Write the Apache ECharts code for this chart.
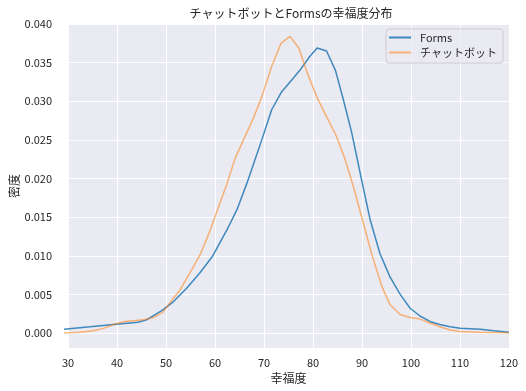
<!DOCTYPE html>
<html><head><meta charset="utf-8">
<script src="https://cdn.jsdelivr.net/npm/echarts@6/dist/echarts.min.js"></script>
<style>html,body{margin:0;padding:0;background:#fff}#c{width:526px;height:391px}</style>
</head><body><div id="c"></div>
<script>
const chartTitle = 'チャットボットとFormsの幸福度分布';
const xName = '幸福度';
const yName = '密度';
const seriesNames = ['Forms', 'チャットボット'];

const formsX = [30, 35.3, 40, 45, 46.7, 50, 52.2, 54.8, 57.5, 60, 63, 65, 67, 70, 72, 74, 76.4, 77.7, 79.7, 81.2, 83.1, 84.9, 86.5, 88.2, 90.2, 91.9, 93.9, 95.9, 98, 100, 102, 104, 106, 108.1, 110.1, 114.2, 116.9, 120];
const formsY = [0.0005, 0.0008, 0.0011, 0.0014, 0.0017, 0.003, 0.0041, 0.0058, 0.0078, 0.0099, 0.0134, 0.016, 0.0194, 0.025, 0.0289, 0.0312, 0.033, 0.034, 0.0358, 0.0369, 0.0365, 0.034, 0.0302, 0.0259, 0.0198, 0.0147, 0.0103, 0.0073, 0.005, 0.0032, 0.0022, 0.0015, 0.0011, 0.0008, 0.0006, 0.0005, 0.0003, 0.0001];

const chatX = [30, 33.2, 35.9, 38, 40, 42.3, 44, 46, 48.1, 50, 51.4, 53.5, 55.5, 57.5, 59.2, 60.9, 63, 64.6, 66.3, 68.3, 70, 72, 73.9, 75.7, 77.5, 79, 81.1, 83.1, 85, 86.8, 88.5, 90, 92.2, 94.3, 95.9, 98, 100, 102, 104, 106, 108.1, 110.1, 114.2, 120];
const chatY = [0.0, 0.0001, 0.0003, 0.0006, 0.0011, 0.0015, 0.0016, 0.0017, 0.002, 0.0027, 0.0039, 0.0056, 0.0078, 0.0101, 0.0127, 0.0157, 0.0194, 0.0226, 0.025, 0.0278, 0.0306, 0.0345, 0.0375, 0.0384, 0.0369, 0.034, 0.0306, 0.028, 0.0256, 0.0226, 0.019, 0.0155, 0.0103, 0.006, 0.0037, 0.0024, 0.002, 0.0018, 0.0013, 0.0008, 0.0004, 0.0002, 0.0001, 0.0];

const FONT = '"Noto Sans CJK JP", "DejaVu Sans", sans-serif';
const TXT = '#262626';
const chart = echarts.init(document.getElementById('c'), null, {renderer: 'canvas'});
chart.setOption({
  animation: false,
  textStyle: {fontFamily: FONT, color: TXT},
  title: {text: chartTitle, left: 286, top: 2, textAlign: 'center',
    textStyle: {fontFamily: FONT, fontSize: 12, fontWeight: 'normal', color: TXT}},
  legend: {
    data: seriesNames, orient: 'vertical', right: 23, top: 29,
    icon: 'rect', itemWidth: 22, itemHeight: 2, itemGap: 4,
    padding: [3, 6, 5, 3],
    backgroundColor: 'rgba(234,234,242,0.8)', borderColor: '#cccccc', borderWidth: 1, borderRadius: 3,
    textStyle: {fontFamily: FONT, fontSize: 11, color: TXT, padding: [0, 0, 0, 4]}
  },
  grid: [
    {left: 64, right: 17, top: 24, bottom: 43, show: true, backgroundColor: '#EAEAF2', borderWidth: 0},
    {left: 64, right: 17, top: 24, bottom: 58, show: false}
  ],
  xAxis: [
    {gridIndex: 0, type: 'value', min: 30, max: 120, interval: 10,
     axisLine: {show: false}, axisTick: {show: false},
     splitLine: {show: true, lineStyle: {color: '#ffffff', width: 1}},
     axisLabel: {color: TXT, fontSize: 11, margin: 9, fontFamily: FONT},
     name: xName, nameLocation: 'middle', nameGap: 24,
     nameTextStyle: {fontSize: 12, color: TXT, fontFamily: FONT}},
    {gridIndex: 1, type: 'value', min: 30, max: 120, show: false}
  ],
  yAxis: [
    {gridIndex: 0, type: 'value', min: 0, max: 1,
     axisLine: {show: false}, axisTick: {show: false}, axisLabel: {show: false}, splitLine: {show: false},
     name: yName, nameLocation: 'middle', nameGap: 48,
     nameTextStyle: {fontSize: 12, color: TXT, fontFamily: FONT}},
    {gridIndex: 1, type: 'value', min: 0, max: 0.04, interval: 0.005,
     axisLine: {show: false}, axisTick: {show: false},
     splitLine: {show: true, lineStyle: {color: '#ffffff', width: 1}},
     axisLabel: {color: TXT, fontSize: 11, margin: 12, fontFamily: FONT, formatter: v => v.toFixed(3)}}
  ],
  series: [
    {name: seriesNames[0], type: 'line', xAxisIndex: 1, yAxisIndex: 1, showSymbol: false, symbol: 'none',
     lineStyle: {width: 1.5, color: 'rgba(31,119,180,0.85)'}, itemStyle: {color: 'rgba(31,119,180,0.85)'},
     data: formsX.map((x, i) => [x, formsY[i]])},
    {name: seriesNames[1], type: 'line', xAxisIndex: 1, yAxisIndex: 1, showSymbol: false, symbol: 'none',
     lineStyle: {width: 1.5, color: 'rgba(255,127,14,0.55)'}, itemStyle: {color: 'rgba(255,127,14,0.55)'},
     data: chatX.map((x, i) => [x, chatY[i]])}
  ]
});
</script></body></html>
